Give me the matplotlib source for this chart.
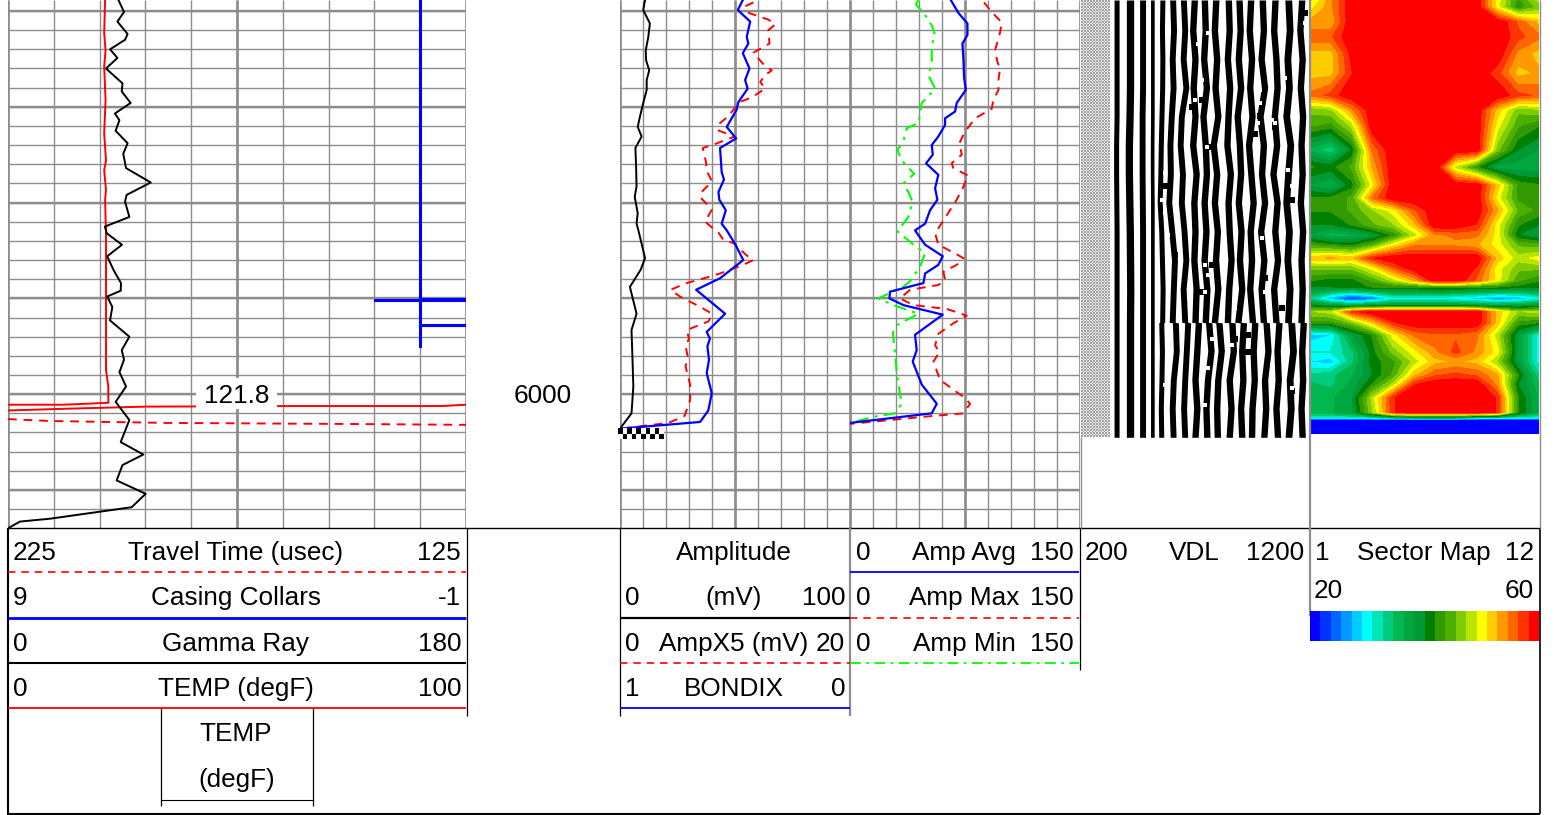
import numpy as np
import matplotlib
matplotlib.use("Agg")
import matplotlib.pyplot as plt
from matplotlib.colors import ListedColormap

plt.rcParams['font.family'] = ['Liberation Sans', 'DejaVu Sans']

# curves: (depth in ft, value in the curve's own scale)
gamma_depth = [5588.5,5601,5611,5624,5630,5640,5649,5660,5675.5,5684,5696,5707,5714,5725,5738,5749,5764,5779,5792,5799,5815,5825,5832,5844,5856,
               5870,5884,5892,5898,5909,5923,5940,5954,5964,5977,5992,6008,6027,6050,6063,6074,6090,6104,6118,6130,6133,6140]
gamma_val = [43.4,45.6,43,47,46,40.1,43,38.5,45,44.7,48.2,42,43.8,42.3,47,45.3,46.4,56.1,46.6,46,47.7,38.1,38.8,44.8,39,
             41.4,44.4,44.3,39,41,40.1,47.7,44.7,45.6,43.8,46.4,42.3,47.7,44.3,53.2,45,42.7,54.1,48.6,16.5,4.7,0]

temp_depth = [5588.5,5623,5641,5658,5693,5728,5756,5766,5787,5797,5832,5870,5975,5992,6009,6011,6011]
temp_val = [21.2,21,21.3,21,21.3,21,21.4,21,21.4,21.2,21.4,21.4,21.4,21.9,21.9,12.1,0]
temp_wrap_depth = [6017,6015,6013,6012.4,6012.4,6011]
temp_wrap_val = [0,14.2,30.1,62.6,94.6,100]

tt_depth = [6026,6028,6030,6031,6032]
tt_val = [225,215.8,190.3,154,125]

ccl_depth = [5588.5,5901,5901,5902,5902,5902,5928,5928,5928,5950]
ccl_val = [0,0,-1,-1,1,0,0,-1,0,0]

amp_depth = [5588.5,5599,5613,5627,5641,5651,5662,5672,5682.5,5696,5710,5721,5731,5743,5762.5,5783,5794,5811,5822,
             5829,5858,5870,5888,5916,5933,5961,5992,6020,6036]
amp_val = [10.9,10.1,13,12.3,11.2,11.3,12.7,11.6,11.6,10.1,8.7,7.7,9.4,6.7,7,7.2,6.4,7.7,7.2,
           8,10.9,9,4.3,7.2,5,5.4,5.8,5,0]

ampx5_depth = [5591,5595,5602,5609,5614,5620,5634,5643.5,5656,5662,5667,5674,5681,5690,5695,5710,5719,5725,5731,5740,5743,5759,5766,5778,5790,5796,5807,5820,5832,
               5839,5842.5,5855,5860,5865,5874,5879,5884,5891,5898,5909,5916,5924,5933,5942,5950,5961,5971,5990,6006,6023,6030,6036]
ampx5_val = [11.6,10.9,11.2,12.9,13.5,12.9,13,11.6,12.5,13.2,12.6,12.2,12.6,11.5,10.4,9.4,8.5,8.6,10,8,7.2,7.5,7.5,8,7,7.1,8,7.4,8.6,
             9,9.9,11,11.6,10.7,8.7,7.3,5.8,4.4,5.2,7,8,7.7,5.8,6,5.7,5.9,5.7,6.1,6.1,5.6,4.2,0]

bond_depth = [5588.5,5599,5611,5627,5634,5644,5660,5672,5681,5695,5703,5721,5733,5743,5768,5776,5789,5797,5808,5822,
              5829,5843,5860,5879,5891,5916,5935,5942,5950,5964,5978,5999,6017,6029,6036]
bond_val = [.466,.488,.434,.449,.442,.466,.437,.456,.445,.485,.493,.536,.495,.565,.558,.548,.572,.568,.54,.558,
            .536,.5,.464,.565,.669,.543,.623,.609,.62,.613,.623,.601,.616,.652,1.0]

avg_depth = [5588.5,5602,5613,5625,5634,5651,5669,5682.5,5696,5705,5712,5719,5731,5740,5750,5759,5771,5785,5797,5808,5822,5829,
             5844,5856,5865,5874,5884,5893,5900,5907,5917,5938,5954,5966,5990,6010,6020,6030]
avg_val = [65.7,70.7,76.6,76.6,73.3,74,74.4,75.5,69.6,68.5,62,62,57.6,53.3,54,49.6,57.6,55.5,57,52.2,49,42.4,
           49,60.5,57.6,49,47.9,26.1,25.7,34.8,60.5,42.4,43.5,40.9,46.8,56.6,53.3,0]

max_depth = [5591,5601,5612,5622,5641,5653,5660,5672,5682.5,5693,5702,5712,5726,5738,5750,5759,5764,5772,5787,5797,5816,5832,
             5844,5853,5858,5865,5872,5881,5886,5891,5900,5907,5911,5918,5926,5937,5949,5956,5966,5985,5994,6004,6010,6020,6023,6031]
max_val = [87.4,92.4,99,97.9,94.6,96.1,97.9,96.8,96.8,93.5,92.4,81.6,75,71.3,72.9,66.3,67.4,77.2,72.9,69.6,62,55.5,
           57.6,68.5,74,69.6,60.9,62,57.6,39.2,32.6,41.3,63.1,76.1,67.4,57.6,55.5,58.3,54.4,58.7,66.3,75,78.3,74,52.2,0]

min_depth = [5588.5,5593,5604,5615,5625,5635.5,5655,5667,5681,5689,5696,5707,5717,5722.5,5736,5745,5756,5770,5780,5789,5799,5815,5830,
             5841,5853,5867,5882,5888,5900,5907,5916,5928,5936,5957,5978,5990,6010,6020,6023,6030]
min_val = [44.6,43,48.9,53.3,55.5,53.3,53.3,51.1,55.5,51.1,46.8,45.7,44.6,37,34.8,30.9,33.7,41.8,34.8,38.1,40.7,38.1,30.9,
           39.2,48.9,45.7,39.2,34.8,18.5,28.3,44.6,30.5,27.9,29.4,30.5,31.6,33.7,29.4,17.4,0]

# VDL black bands, centre time (usec) of each band at each depth
vdl_depth = [5588.5,5620,5650,5680,5710,5740,5770,5800,5830,5860,5890,5925,5925.5,5955,5985,6015,6045]
vdl_centres = [
 [356,415,470,513,557,602,649,697,741,791,846,893,944,995,1051,1109,1168],
 [356,415,470,513,555,606,655,690,745,785,850,898,938,1000,1045,1115,1160],
 [356,415,470,513,557,600,648,700,738,795,842,890,948,990,1055,1105,1170],
 [356,415,470,513,556,604,660,692,750,788,852,900,940,1005,1060,1112,1162],
 [356,413,468,513,553,596,640,700,735,800,845,885,950,985,1048,1100,1172],
 [354,410,468,512,550,590,635,690,745,780,840,895,935,1000,1058,1118,1165],
 [354,410,468,512,548,592,645,705,750,795,855,900,945,992,1042,1108,1170],
 [355,412,469,513,545,585,640,695,740,785,845,890,955,1005,1060,1100,1162],
 [356,414,470,513,552,598,652,700,748,798,850,902,942,988,1050,1112,1172],
 [356,415,470,513,555,610,660,695,740,790,858,895,948,1002,1062,1105,1165],
 [356,416,470,513,558,605,648,705,752,800,848,905,940,990,1045,1115,1170],
 [356,415,470,513,556,600,655,700,745,785,842,888,952,1000,1055,1108,1165],
 [356,415,470,513,552,614,668,715,760,805,862,912,962,1012,1068,1122,1175],
 [356,415,470,513,555,618,662,708,770,815,868,905,955,1020,1060,1130,1168],
 [356,415,470,513,553,605,655,700,755,800,850,910,960,1005,1065,1115,1172],
 [356,415,470,513,550,600,650,708,748,795,858,900,950,1010,1055,1120,1165],
 [356,415,470,513,552,604,655,700,752,798,850,905,948,1002,1062,1110,1170],
]
vdl_width = [22,32,26,16,22,26,26,28,28,28,28,28,28,28,28,30,28]
# breaks and bridges in the bands
vdl_white_t = [715,700,729,985,1036,978,1051,985,1095,1109,568,554,963,751,1124,568,1080,1183,758,
               583,992,1080,744,758,1007,744,1080,876,861,773,758,934,744,1036,583,1124,568]
vdl_white_d = [5634,5693,5672,5696,5714,5717,5717,5682,5670,5766,5769,5797,5749,5742,5783,5811,5623,5613,5623,
               5834,5837,5848,5865,5876,5893,5893,5890,5910,5949,5942,5973,5997,6011,5970,5935,5994,5990]
vdl_black_t = [729,985,1051,685,568,1124,758,963,1183,773,1007,876,934,729,1080,612,1124,758,934]
vdl_black_d = [5693,5710,5721,5700,5783,5797,5742,5728,5602,5865,5879,5942,5938,5893,5910,5855,5997,5987,5956]

# sector map, amplitude for sectors 1..12 at each depth
sector_depth = [5588.5,5596,5611.5,5627,5644,5665,5688,5703,5719,5745,5763,5782,5795,5808,5823,5834,5844,5858,5868,5881,5888,5900,5907,5914,5925,5938,5956,5966,5980,5990,6004,6019,6025,6027,6041]
sector_vals = [
 [48,54,60,60,60,60,60,60,60,50,43,48],
 [50,54,60,60,60,60,60,60,60,50,42,46],
 [53,53,60,60,60,60,60,60,60,60,56,52],
 [56,56,60,60,60,60,60,60,60,60,57,55],
 [52,52,59,60,60,60,60,60,60,60,54,52],
 [52,52,58,60,60,60,60,60,60,57,52,53],
 [55,57,60,60,60,60,60,60,60,60,57,56],
 [46,47,54,60,60,60,60,60,60,52,46,47],
 [44,43,48,60,60,60,60,60,60,50,44,42],
 [36,33,40,55,60,60,60,60,60,46,40,38],
 [42,41,44,53,60,60,60,48,42,37,37,37],
 [38,36,41,50,60,60,60,60,60,52,43,42],
 [42,42,44,55,60,60,60,60,60,50,43,42],
 [42,42,44,47,50,56,60,60,60,53,45,43],
 [40,40,42,45,47,52,60,60,58,50,42,40],
 [38,35,36,38,42,48,54,55,55,50,40,38],
 [43,42,41,44,50,54,54,54,53,50,45,44],
 [52,53,52,58,60,60,60,60,60,52,48,50],
 [46,46,46,50,56,60,60,60,58,50,46,46],
 [42,41,41,44,48,53,60,60,56,50,44,42],
 [40,40,41,42,42,42,43,43,42,42,41,41],
 [33,27,22,25,30,30,30,29,28,26,27,30],
 [40,37,36,37,38,38,38,38,37,36,37,38],
 [47,48,57,60,60,60,60,60,60,52,47,48],
 [43,43,46,52,58,60,60,60,60,52,43,42],
 [28,29,38,42,50,55,56,56,55,48,38,30],
 [31,31,34,41,46,50,54,57,54,50,38,30],
 [29,28,34,41,43,48,52,53,52,47,38,30],
 [33,34,36,40,44,52,56,57,56,53,42,33],
 [35,34,37,42,48,58,60,60,60,54,40,35],
 [36,36,38,48,58,60,60,60,60,58,42,36],
 [36,36,38,47,58,60,60,60,60,58,42,36],
 [30,30,30,30,32,34,34,34,30,30,30,30],
 [20,20,20,20,20,20,20,20,20,20,20,20],
 [20,20,20,20,20,20,20,20,20,20,20,20],
]
sector_numbers = [1,2,3,4,5,6,7,8,9,10,11,12]
sector_colors = ['#0000ff','#0033ff','#0066ff','#0099ff','#00ccff','#00ffff','#00e6b8','#00cc80','#00b84d','#00a640','#009933',
                 '#008000','#339900','#4db000','#80cc00','#b8e600','#ffff00','#ffcc00','#ff9900','#ff6600','#ff3300','#ff0000']

depth_top = 5588.5
depth_bottom = 6139.7
GRID = '#8c8c8c'
W, H = 1554, 815

fig = plt.figure(figsize=(W / 100, H / 100), dpi=100, facecolor='white')


def track(x0, x1, xlim, grid=True):
    ax = fig.add_axes([x0 / W, (H - 528) / H, (x1 - x0) / W, 528 / H])
    ax.set_xlim(xlim)
    ax.set_ylim(depth_bottom, depth_top)
    ax.axis('off')
    if grid:
        minor = np.arange(5600, 6140, 20)
        ax.hlines(minor, xlim[0], xlim[1], color=GRID, lw=1.0, zorder=1)
        ax.hlines(minor[::5], xlim[0], xlim[1], color=GRID, lw=1.7, zorder=1)
        ticks = np.linspace(xlim[0], xlim[1], 11)
        ax.vlines(ticks, depth_top, depth_bottom, color=GRID, lw=1.0, zorder=1)
        ax.vlines(ticks[[0, 5, 10]], depth_top, depth_bottom, color=GRID, lw=1.9, zorder=1)
    return ax


DASH = (0, (4.5, 3.5))
DASHDOT = (0, (6, 3, 1.5, 3))

# track 1
ax1 = track(8, 466, (0, 100))
ax1.plot(temp_val, temp_depth, color='red', lw=1.4, zorder=3)
ax1.plot(temp_wrap_val, temp_wrap_depth, color='red', lw=1.4, zorder=3)
gr = ax1.twiny()
gr.set_xlim(0, 180); gr.axis('off')
gr.plot(gamma_val, gamma_depth, color='black', lw=1.4, zorder=4)
tt = ax1.twiny()
tt.set_xlim(225, 125); tt.axis('off')
tt.plot(tt_val, tt_depth, color='red', lw=1.4, ls=DASH)
ccl = ax1.twiny()
ccl.set_xlim(9, -1); ccl.axis('off')
ccl.plot(ccl_val, ccl_depth, color='#0000ff', lw=2.2, solid_joinstyle='miter')

# track 2
ax2 = track(620, 850, (0, 100))
ax2.plot(amp_val, amp_depth, color='black', lw=1.4, zorder=3)
x5 = ax2.twiny()
x5.set_xlim(0, 20); x5.axis('off')
x5.plot(ampx5_val, ampx5_depth, color='red', lw=1.4, ls=DASH)
bi = ax2.twiny()
bi.set_xlim(1, 0); bi.axis('off')
bi.plot(bond_val, bond_depth, color='#0000ff', lw=1.6)

# track 3
ax3 = track(850, 1080, (0, 150))
ax3.plot(min_val, min_depth, color='#00ff00', lw=1.5, ls=DASHDOT, zorder=3)
ax3.plot(max_val, max_depth, color='red', lw=1.4, ls=DASH, zorder=3)
ax3.plot(avg_val, avg_depth, color='#0000ff', lw=1.6, zorder=4)

# VDL
ax4 = track(1081, 1309, (200, 1200), grid=False)
centres = np.array(vdl_centres, dtype=float)
for i, w in enumerate(vdl_width):
    ax4.fill_betweenx(vdl_depth, centres[:, i] - w / 2, centres[:, i] + w / 2, color='black', lw=0)
ax4.scatter(vdl_black_t, vdl_black_d, marker='s', s=20, color='black', lw=0, zorder=3)
ax4.scatter(vdl_white_t, vdl_white_d, marker='s', s=12, color='white', lw=0, zorder=4)

# sector map
ax5 = track(1310, 1539, (1, 12), grid=False)
levels = np.linspace(20, 60, 23)
levels[0] = 19
levels[-1] = 61
ax5.contourf(sector_numbers, sector_depth, np.array(sector_vals), levels=levels, colors=sector_colors)

# page overlay: headers, rules and text
page = fig.add_axes([0, 0, 1, 1])
page.set_xlim(0, W)
page.set_ylim(H, 0)
page.axis('off')

# stipple at the start of the VDL track
sx = np.arange(1081, 1110, 1.5)
sy = np.arange(0, 438, 1.5)
stip = (np.indices((len(sy) - 1, len(sx) - 1)).sum(axis=0) % 2)
page.pcolormesh(sx, sy, stip, cmap=ListedColormap(['#a0a0a0', '#ebebeb']), rasterized=True)

# no-bond checker
cx = np.arange(618, 665, 4.6)
cy = [428, 433.5, 439]
chk = (np.indices((2, len(cx) - 1)).sum(axis=0) % 2)
page.pcolormesh(cx, cy, chk, cmap='gray')

page.set_xlim(0, W)
page.set_ylim(H, 0)


def rule(x0, y0, x1, y1, color='black', lw=0.9, ls='-'):
    page.plot([x0, x1], [y0, y1], color=color, lw=lw, ls=ls, solid_capstyle='butt', dash_capstyle='butt')


# outer frame and header boxes
rule(7, 528, 1539, 528, lw=1.0)
rule(7.5, 528, 7.5, 814, lw=1.5)
rule(6.5, 813.5, 1540, 813.5, lw=1.5)
rule(1539.5, 528, 1539.5, 814, lw=1.2)
rule(1539.5, 0, 1539.5, 528, color=GRID, lw=1.0)
rule(466.5, 528, 466.5, 716)
rule(620, 528, 620, 716)
rule(850, 528, 850, 716, color=GRID, lw=1.6)
rule(1080, 528, 1080, 670)
rule(1309.5, 0, 1309.5, 616, color=GRID, lw=1.6)
rule(1080.5, 437, 1080.5, 528, color=GRID, lw=1.0)
rule(160.5, 708, 160.5, 806)
rule(313, 708, 313, 806)
rule(160.5, 800, 313, 800, lw=0.8)

rule(8, 572, 466, 572, color='red', lw=1.2, ls=DASH)
rule(8, 618, 466, 618, color='#0000ff', lw=2.0)
rule(8, 663, 466, 663, lw=1.5)
rule(8, 708, 466, 708, color='red', lw=1.3)
rule(620, 617.5, 850, 617.5, lw=1.6)
rule(620, 663, 850, 663, color='red', lw=1.2, ls=DASH)
rule(620, 708, 850, 708, color='#0000ff', lw=1.3)
rule(850, 572, 1079, 572, color='#0000ff', lw=1.3)
rule(850, 617.5, 1079, 617.5, color='red', lw=1.2, ls=DASH)
rule(850, 663, 1079, 663, color='#00ff00', lw=1.3, ls=DASHDOT)

FS = 18.8


def label(x, y, s, ha='center'):
    # y is the text baseline
    page.text(x, y, s, ha=ha, va='baseline', fontsize=FS, color='black', zorder=10)


for y, left, mid, right in [(560, '225', 'Travel Time (usec)', '125'), (605, '9', 'Casing Collars', '-1'),
                            (651, '0', 'Gamma Ray', '180'), (696, '0', 'TEMP (degF)', '100')]:
    label(13, y, left, 'left')
    label(236, y, mid)
    label(461, y, right, 'right')
label(236, 741, 'TEMP')
label(237, 787, '(degF)')

label(734, 560, 'Amplitude')
for y, left, mid, right in [(605, '0', '(mV)', '100'), (651, '0', 'AmpX5 (mV)', '20'), (696, '1', 'BONDIX', '0')]:
    label(625, y, left, 'left')
    label(734, y, mid)
    label(845, y, right, 'right')

for y, mid in [(560, 'Amp Avg'), (605, 'Amp Max'), (651, 'Amp Min')]:
    label(856, y, '0', 'left')
    label(964, y, mid)
    label(1074, y, '150', 'right')

label(1085, 560, '200', 'left')
label(1194, 560, 'VDL')
label(1304, 560, '1200', 'right')

label(1315, 560, '1', 'left')
label(1424, 560, 'Sector Map')
label(1534, 560, '12', 'right')
label(1314, 598, '20', 'left')
label(1534, 598, '60', 'right')

# colour key 20..60
key = fig.add_axes([1310 / W, (H - 641) / H, 229 / W, 30 / H])
key.pcolormesh(np.linspace(20, 60, 23), [0, 1], np.arange(22)[None, :], cmap=ListedColormap(sector_colors))
key.axis('off')

# depth label and curve value box
page.add_patch(plt.Rectangle((196, 378), 81, 31, color='white', lw=0, zorder=8))
label(237, 403, '121.8')
label(543, 403, '6000')

fig.savefig('out.png', dpi=100)
